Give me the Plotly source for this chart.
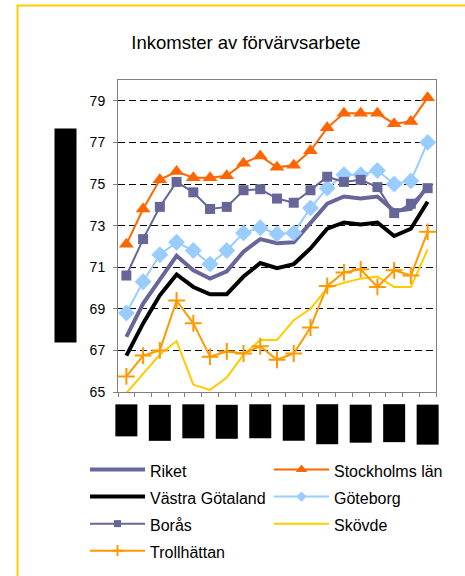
import plotly.graph_objects as go

years = list(range(1987, 2006))

riket = [67.65, 69.25, 70.4, 71.55, 70.85, 70.45, 70.8, 71.75, 72.35, 72.15, 72.2, 73.1,
         74.05, 74.4, 74.3, 74.4, 73.7, 73.8, 74.9]
stockholm = [72.1, 73.8, 75.2, 75.6, 75.3, 75.3, 75.4, 76.0, 76.35, 75.8, 75.9, 76.6,
             77.7, 78.4, 78.4, 78.4, 77.9, 78.0, 79.15]
vastra_gotaland = [66.75, 68.3, 69.65, 70.65, 70.05, 69.7, 69.7, 70.55, 71.2, 70.95, 71.15, 71.9,
                   72.85, 73.15, 73.05, 73.15, 72.5, 72.85, 74.15]
goteborg = [68.8, 70.3, 71.6, 72.2, 71.8, 71.15, 71.8, 72.65, 72.9, 72.6, 72.65, 73.85,
            74.8, 75.45, 75.45, 75.65, 75.0, 75.15, 77.0]
boras = [70.6, 72.35, 73.9, 75.1, 74.6, 73.8, 73.9, 74.7, 74.75, 74.3, 74.1, 74.7,
         75.35, 75.1, 75.2, 74.85, 73.6, 74.05, 74.8]
skovde = [64.95, 65.9, 66.8, 67.45, 65.35, 65.1, 65.7, 66.8, 67.5, 67.5, 68.45, 69.0,
          70.0, 70.25, 70.45, 70.55, 70.05, 70.05, 71.85]
trollhattan = [65.75, 66.75, 67.0, 69.4, 68.3, 66.7, 66.95, 66.85, 67.2, 66.55, 66.85, 68.1,
               70.1, 70.75, 70.9, 70.05, 70.85, 70.6, 72.7]

y_ticks = [65, 67, 69, 71, 73, 75, 77, 79]
label_years = years[::2]
title_text = "Inkomster av förvärvsarbete"
y_title = "Andel med inkomst av förvärvsarbete, procent"

# lengths of the (redacted) x label boxes, in px
label_box_len = [33, 37, 35, 35, 35, 37, 41, 39, 39, 41]

fig = go.Figure()

def add(name, y, color, width, symbol=None, msize=None, mline=None, lsize=None):
    label = '<span style="font-size:16px">' + name + '</span>'
    line = dict(color=color, width=width)
    if symbol:
        m = dict(symbol=symbol, size=msize, color=color)
        lm = dict(symbol=symbol, size=lsize, color=color)
        if mline:
            m["line"] = dict(color=color, width=mline)
            lm["line"] = dict(color=color, width=mline)
        fig.add_trace(go.Scatter(x=years, y=y, name=name, mode="lines+markers",
                                 line=line, marker=m, showlegend=False))
        fig.add_trace(go.Scatter(x=[None], y=[None], name=label, mode="lines+markers",
                                 line=line, marker=lm, hoverinfo="skip"))
    else:
        fig.add_trace(go.Scatter(x=years, y=y, name=name, mode="lines",
                                 line=line, showlegend=False))
        fig.add_trace(go.Scatter(x=[None], y=[None], name=label, mode="lines",
                                 line=line, hoverinfo="skip"))

add("Riket", riket, "#666699", 4)
add("Stockholms län", stockholm, "#FF6600", 2, "triangle-up", 13, lsize=10)
add("Västra Götaland", vastra_gotaland, "#000000", 4)
add("Göteborg", goteborg, "#99CCFF", 2, "diamond", 13, lsize=8)
add("Borås", boras, "#666699", 2, "square", 10, lsize=7)
add("Skövde", skovde, "#FFCC00", 2)
add("Trollhättan", trollhattan, "#FF9900", 2, "cross-thin", 12, 2, lsize=8)

L, R, T, B = 118, 29, 80, 184
W, H = 465, 576
pw, ph = W - L - R, H - T - B

annotations = []
for yr, ln in zip(label_years, label_box_len):
    annotations.append(dict(
        x=yr, xref="x", y=(ph - (404 - T)) / ph, yref="paper",
        text=str(yr), showarrow=False, textangle=-90,
        xanchor="center", yanchor="top",
        width=ln - 4, height=19, bgcolor="#000000",
        font=dict(color="#000000", size=11, family="Liberation Sans, Arial"),
        borderpad=1,
    ))
annotations.append(dict(
    x=(65.5 - L) / pw, xref="paper", y=(ph - (235.5 - T)) / ph, yref="paper",
    text=y_title, showarrow=False, textangle=-90,
    xanchor="center", yanchor="middle",
    width=211, height=19, bgcolor="#000000",
    font=dict(color="#000000", size=11, family="Liberation Sans, Arial"),
    borderpad=1,
))

fig.update_layout(
    width=W, height=H,
    margin=dict(l=L, r=R, t=T, b=B, autoexpand=False),
    paper_bgcolor="white", plot_bgcolor="white",
    font=dict(family="Liberation Sans, Arial, sans-serif", color="#000000"),
    title=dict(text=title_text, x=246 / W, xanchor="center", xref="container",
               y=1 - 43 / H, yanchor="middle", yref="container",
               font=dict(size=18.5, color="#000000")),
    showlegend=True,
    legend=dict(
        orientation="h", x=(85 - L) / pw, xanchor="left",
        y=(ph - (451 - T)) / ph, yanchor="top",
        entrywidth=114, entrywidthmode="pixels",
        font=dict(size=18.5, color="#000000"),
        itemwidth=55, bgcolor="rgba(0,0,0,0)", traceorder="normal",
        tracegroupgap=0,
    ),
    annotations=annotations,
    shapes=[dict(type="rect", xref="paper", yref="paper",
                 x0=(17.5 - L) / pw, x1=(W + 10 - L) / pw,
                 y0=(ph - (H + 10 - T)) / ph, y1=(ph - (5.5 - T)) / ph,
                 line=dict(color="#FFCC00", width=2), fillcolor="rgba(0,0,0,0)",
                 layer="below")],
)

fig.update_xaxes(
    range=[years[0] - 0.5, years[-1] + 0.5],
    tickmode="array", tickvals=[y - 0.5 for y in years] + [years[-1] + 0.5],
    showticklabels=False, ticks="outside", ticklen=4, tickcolor="#808080",
    showgrid=False, zeroline=False,
    showline=True, linecolor="#808080", linewidth=1, mirror=True,
)
fig.update_yaxes(
    range=[65, 80], tickmode="array", tickvals=y_ticks,
    ticks="outside", ticklen=4, tickcolor="#808080",
    tickfont=dict(size=14, color="#000000"), ticklabelstandoff=5,
    showgrid=True, gridcolor="#000000", gridwidth=1, griddash="7px,4px",
    zeroline=False, showline=True, linecolor="#808080", linewidth=1, mirror=True,
)

fig.write_html("out.html", config={"displayModeBar": False},
               post_script="document.body.style.margin='0px';")
